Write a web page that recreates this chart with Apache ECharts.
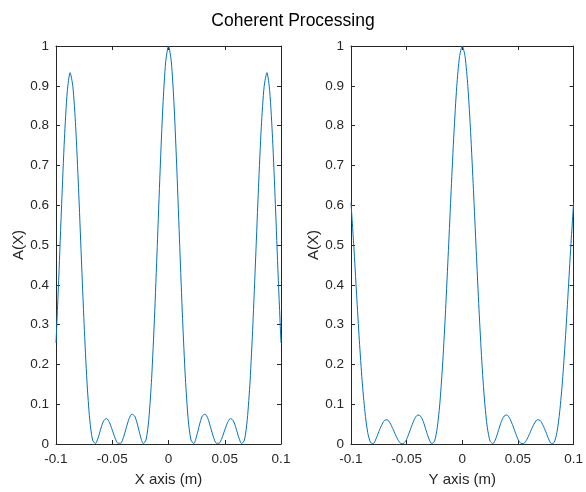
<!DOCTYPE html>
<html>
<head>
<meta charset="utf-8">
<script src="https://cdn.jsdelivr.net/npm/echarts@6/dist/echarts.min.js"></script>
<style>html,body{margin:0;padding:0;background:#fff}#c{width:586px;height:492px}</style>
</head>
<body>
<div id="c"></div>
<script>
var titleText = 'Coherent Processing';
var xNameLeft = 'X axis (m)';
var xNameRight = 'Y axis (m)';
var yName = 'A(X)';
var xTicks = [-0.1, -0.05, 0, 0.05, 0.1];
var yTicks = [0, 0.1, 0.2, 0.3, 0.4, 0.5, 0.6, 0.7, 0.8, 0.9, 1];

var positions = [-0.1000,-0.0975,-0.0950,-0.0925,-0.0900,-0.0875,-0.0850,-0.0825,-0.0800,-0.0775,
  -0.0750,-0.0725,-0.0700,-0.0675,-0.0650,-0.0625,-0.0600,-0.0575,-0.0550,-0.0525,
  -0.0500,-0.0475,-0.0450,-0.0425,-0.0400,-0.0375,-0.0350,-0.0325,-0.0300,-0.0275,
  -0.0250,-0.0225,-0.0200,-0.0175,-0.0150,-0.0125,-0.0100,-0.0075,-0.0050,-0.0025,
  0,0.0025,0.0050,0.0075,0.0100,0.0125,0.0150,0.0175,0.0200,0.0225,
  0.0250,0.0275,0.0300,0.0325,0.0350,0.0375,0.0400,0.0425,0.0450,0.0475,
  0.0500,0.0525,0.0550,0.0575,0.0600,0.0625,0.0650,0.0675,0.0700,0.0725,
  0.0750,0.0775,0.0800,0.0825,0.0850,0.0875,0.0900,0.0925,0.0950,0.0975,0.1000];

var ampX = [0.254,0.420,0.602,0.767,0.885,0.933,0.898,0.797,0.645,0.470,
  0.300,0.158,0.061,0.010,0.001,0.016,0.040,0.059,0.064,0.054,
  0.035,0.015,0.002,0.002,0.017,0.041,0.064,0.075,0.070,0.048,
  0.020,0.001,0.010,0.062,0.165,0.315,0.496,0.684,0.849,0.960,
  1.000,0.960,0.849,0.684,0.496,0.315,0.165,0.062,0.010,0.001,
  0.020,0.048,0.070,0.075,0.064,0.041,0.017,0.002,0.002,0.015,
  0.035,0.054,0.064,0.059,0.040,0.016,0.001,0.010,0.061,0.158,
  0.300,0.470,0.645,0.797,0.898,0.933,0.885,0.767,0.602,0.420,0.254];

var ampY = [0.606,0.498,0.377,0.260,0.159,0.081,0.029,0.004,0.001,0.013,
  0.031,0.047,0.059,0.061,0.053,0.039,0.023,0.009,0.001,0.002,
  0.012,0.030,0.049,0.065,0.073,0.070,0.056,0.034,0.013,0.001,
  0.007,0.041,0.108,0.209,0.338,0.486,0.639,0.782,0.898,0.973,
  1.000,0.973,0.898,0.782,0.639,0.486,0.338,0.209,0.108,0.041,
  0.007,0.001,0.013,0.034,0.056,0.070,0.073,0.065,0.049,0.030,
  0.012,0.002,0.001,0.009,0.023,0.039,0.053,0.061,0.059,0.047,
  0.031,0.013,0.001,0.004,0.029,0.081,0.159,0.260,0.377,0.498,0.606];

var FONT = '"Liberation Sans", Arial, Helvetica, sans-serif';
var AX = '#262626';
var LINE = '#0072BD';

function pairs(xs, ys) { return xs.map(function (x, i) { return [x, ys[i]]; }); }
function fmt(v) { return String(Math.round(v * 1000) / 1000); }

function xAxisDef(gi, pos, name) {
  return {
    type: 'value', gridIndex: gi, position: pos,
    min: xTicks[0], max: xTicks[xTicks.length - 1], interval: 0.05,
    axisLine: { show: true, onZero: false, lineStyle: { color: AX, width: 1 } },
    axisTick: { show: true, inside: true, length: 4, lineStyle: { color: AX, width: 1 } },
    axisLabel: { show: pos === 'bottom', color: AX, fontFamily: FONT, fontSize: 13.5, margin: 8, formatter: fmt },
    splitLine: { show: false },
    name: pos === 'bottom' ? name : '',
    nameLocation: 'middle', nameGap: 28,
    nameTextStyle: { color: AX, fontFamily: FONT, fontSize: 15 }
  };
}
function yAxisDef(gi, pos) {
  return {
    type: 'value', gridIndex: gi, position: pos,
    min: yTicks[0], max: yTicks[yTicks.length - 1], interval: 0.1,
    axisLine: { show: true, onZero: false, lineStyle: { color: AX, width: 1 } },
    axisTick: { show: true, inside: true, length: 4, lineStyle: { color: AX, width: 1 } },
    axisLabel: { show: pos === 'left', color: AX, fontFamily: FONT, fontSize: 13.5, margin: 7, formatter: fmt },
    splitLine: { show: false },
    name: pos === 'left' ? yName : '',
    nameLocation: 'middle', nameGap: 28, nameRotate: 90,
    nameTextStyle: { color: AX, fontFamily: FONT, fontSize: 15 }
  };
}

var chart = echarts.init(document.getElementById('c'), null, { renderer: 'canvas' });
chart.setOption({
  backgroundColor: '#ffffff',
  animation: false,
  title: {
    text: titleText, left: 'center', top: 7,
    textStyle: { color: '#000', fontFamily: FONT, fontSize: 17.5, fontWeight: 'normal' }
  },
  grid: [
    { left: 56, top: 46, width: 225, height: 398 },
    { left: 351, top: 46, width: 226, height: 398 }
  ],
  xAxis: [xAxisDef(0, 'bottom', xNameLeft), xAxisDef(0, 'top', ''), xAxisDef(1, 'bottom', xNameRight), xAxisDef(1, 'top', '')],
  yAxis: [yAxisDef(0, 'left'), yAxisDef(0, 'right'), yAxisDef(1, 'left'), yAxisDef(1, 'right')],
  series: [
    { type: 'line', xAxisIndex: 0, yAxisIndex: 0, data: pairs(positions, ampX), showSymbol: false, smooth: 0.25,
      lineStyle: { color: LINE, width: 1 }, clip: true },
    { type: 'line', xAxisIndex: 2, yAxisIndex: 2, data: pairs(positions, ampY), showSymbol: false, smooth: 0.25,
      lineStyle: { color: LINE, width: 1 }, clip: true }
  ]
});
</script>
</body>
</html>
